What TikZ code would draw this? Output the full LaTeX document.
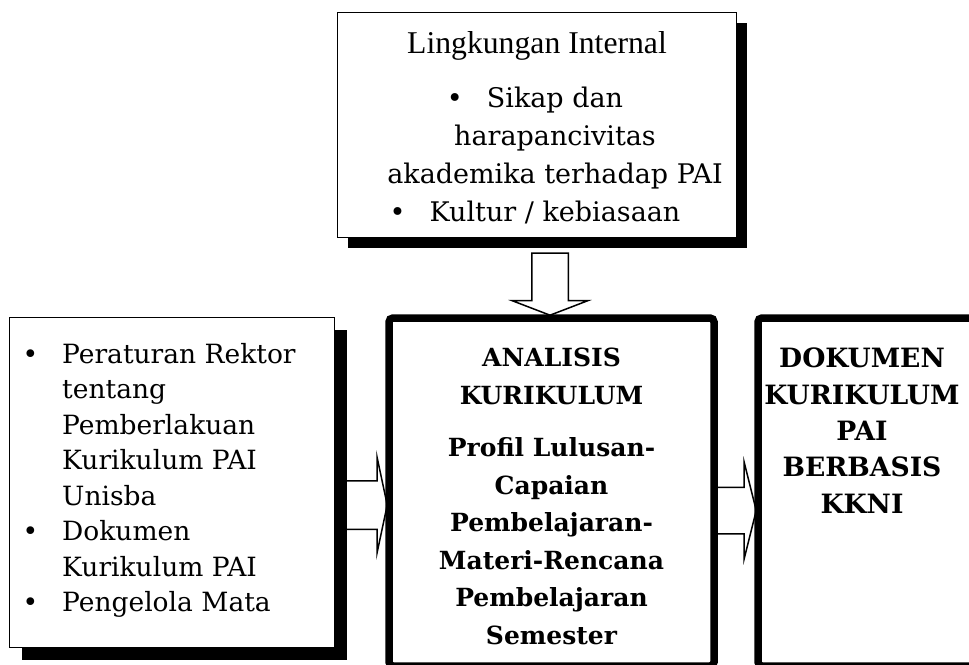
\documentclass[tikz,border=0pt]{standalone}
\usepackage{fontspec}
\setmainfont{DejaVu Serif}
\newfontfamily\timesfont{Liberation Serif}
\usetikzlibrary{shapes.arrows,shadows}

\begin{document}
\begin{tikzpicture}[x=1pt, y=-1pt,
    kotak/.style={draw, line width=1.7pt, fill=white, inner sep=0pt,
        drop shadow={fill=black, opacity=1, shadow xshift=#1, shadow yshift=-#1}},
    kotak/.default=10pt,
    kotaktebal/.style={draw, line width=7.5pt, rounded corners=4pt, fill=white, inner sep=0pt},
    panah/.style={draw, line width=1.5pt, fill=white, single arrow, inner sep=0pt},
    isi/.style={inner sep=0pt, align=center, font=\fontsize{27}{38}\selectfont},
    judul/.style={inner sep=0pt, align=center, font=\bfseries\fontsize{25}{37.5}\selectfont}]
    \useasboundingbox (0,0) rectangle (969,664);

    % Panah blok
    \node[panah, text height=23.5pt, text depth=23.5pt, minimum height=41pt, single arrow head extend=23.5pt, single arrow tip angle=156, anchor=tip] (panahkiri) at (388,505) {};
    \node[panah, text height=22.5pt, text depth=22.5pt, minimum height=45pt, single arrow head extend=25pt, single arrow tip angle=152, anchor=tip] (panahkanan) at (757,510.5) {};
    \node[panah, rotate=-90, text height=17.5pt, text depth=17.5pt, minimum height=62pt, single arrow head extend=19.5pt, single arrow tip angle=138, anchor=tip] (panahbawah) at (550,316) {};

    % Lingkungan internal
    \node[kotak, minimum width=399pt, minimum height=225pt] (internal) at (537,125) {};
    \node[inner sep=0pt, anchor=north, font=\timesfont\fontsize{31.7}{38}\selectfont] (judulinternal) at (537,31) {Lingkungan Internal};
    \node[isi, anchor=north] (daftarinternal) at (555,87) {\llap{\textbullet\hspace{24pt}}Sikap dan\\harapancivitas\\akademika terhadap PAI\\\llap{\textbullet\hspace{24pt}}Kultur / kebiasaan};

    % Regulasi
    \node[kotak=12pt, minimum width=325pt, minimum height=330pt] (regulasi) at (172,482.5) {};
    \node[isi, align=left, font=\fontsize{26.5}{35.5}\selectfont, anchor=north west] (daftarregulasi) at (62,343) {\llap{\textbullet\hspace{24pt}}Peraturan Rektor\\tentang\\Pemberlakuan\\Kurikulum PAI\\Unisba\\\llap{\textbullet\hspace{24pt}}Dokumen\\Kurikulum PAI\\\llap{\textbullet\hspace{24pt}}Pengelola Mata};

    % Analisis kurikulum
    \node[kotaktebal, minimum width=325pt, minimum height=348pt] (analisis) at (551.5,492) {};
    \node[judul, anchor=north] (judulanalisis) at (551.5,348) {ANALISIS\\KURIKULUM\\[15pt]Profil Lulusan-\\Capaian\\Pembelajaran-\\Materi-Rencana\\Pembelajaran\\Semester};

    % Dokumen kurikulum
    \node[kotaktebal, minimum width=217pt, minimum height=348pt] (dokumen) at (866.5,492) {};
    \node[judul, font=\bfseries\fontsize{26.6}{36.3}\selectfont, anchor=north] (juduldokumen) at (862,348) {DOKUMEN\\KURIKULUM\\PAI\\BERBASIS\\KKNI};
\end{tikzpicture}
\end{document}
